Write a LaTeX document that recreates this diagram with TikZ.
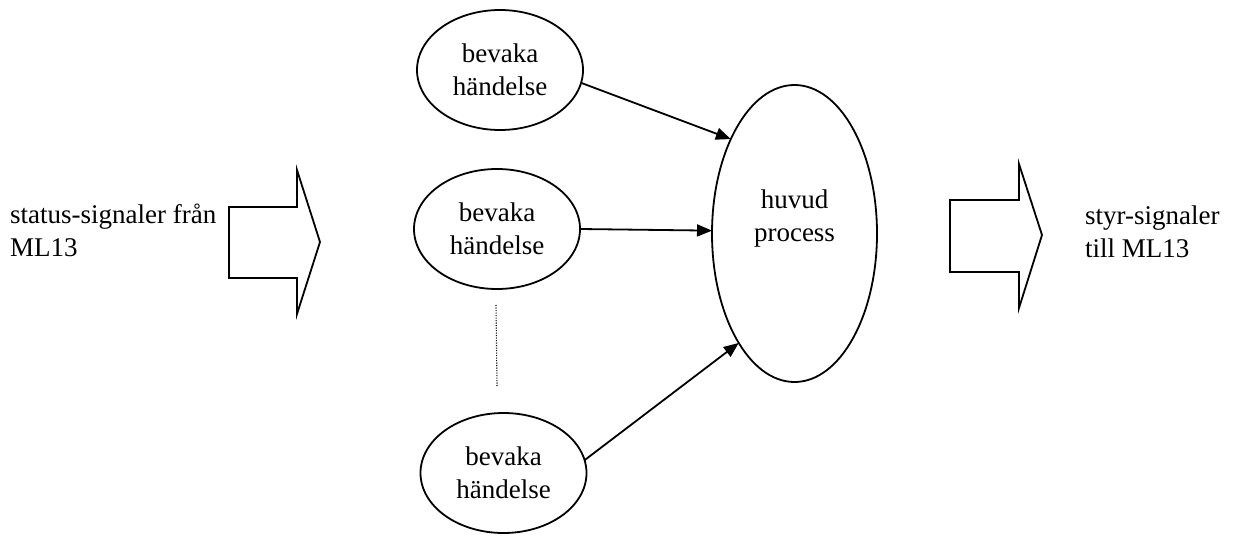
\documentclass[tikz,border=0pt]{standalone}
\usepackage{fontspec}
\setmainfont{Liberation Serif}
\usetikzlibrary{shapes.geometric,arrows.meta}
\begin{document}
\begin{tikzpicture}[x=1pt,y=-1pt,
  lw/.style={line width=1.8pt},
  txt/.style={font=\fontsize{27}{33}\selectfont, align=center, inner sep=0pt},
  evbox/.style={ellipse, draw, lw, minimum width=166pt, minimum height=120pt, inner sep=0pt, outer sep=0pt, font=\fontsize{27}{33}\selectfont, align=center},
  conn/.style={lw, -{Triangle[length=15pt,width=12pt]}},
  blockarrow/.style={draw, lw, line join=miter}
]
\useasboundingbox (0,0) rectangle (1247,536);
% left text
\node[txt, align=left, anchor=west] (lt) at (10,230) {status-signaler från\\ML13};
% left block arrow
\draw[blockarrow] (229,207) -- (297,207) -- (297,170) -- (320,242) -- (297,314) -- (297,278) -- (229,278) -- cycle;
% event ellipses
\node[evbox] (e1) at (500,70) {bevaka\\händelse};
\node[evbox] (e2) at (497,229) {bevaka\\händelse};
\node[evbox] (e3) at (503.5,473) {bevaka\\händelse};
% dotted line
\coordinate (d1) at (496,305);
\coordinate (d2) at (497,387);
\draw[line width=1.1pt, dash pattern=on 1.2pt off 1.3pt] (d1) -- (d2);
% main process
\node[ellipse, draw, lw, minimum width=165pt, minimum height=297pt, inner sep=0pt, outer sep=0pt] (main) at (794.5,233.5) {};
\node[txt] (mt) at (794.5,219) {huvud\\process};
% connectors
\draw[conn] (e1.-9) -- (main.124);
\draw[conn] (e2.east) -- (main.178);
\draw[conn] (e3.9.6) -- (main.243);
% right block arrow
\draw[blockarrow] (950,200) -- (1019,200) -- (1019,164) -- (1042,235) -- (1019,308) -- (1019,272) -- (950,272) -- cycle;
% right text
\node[txt, align=left, anchor=west] (rt) at (1085,232) {styr-signaler\\till ML13};
\end{tikzpicture}
\end{document}
